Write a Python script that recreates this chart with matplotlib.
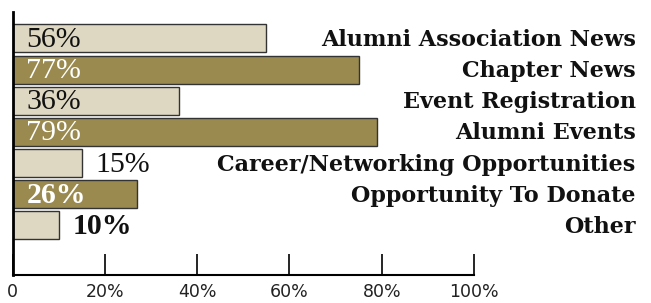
import matplotlib.pyplot as plt

categories = ['Alumni Association News', 'Chapter News', 'Event Registration',
              'Alumni Events', 'Career/Networking Opportunities',
              'Opportunity To Donate', 'Other']
values = [55, 75, 36, 79, 15, 27, 10]
pct_labels = ['56%', '77%', '36%', '79%', '15%', '26%', '10%']
label_bold = [False, False, False, False, False, True, True]
label_inside = [True, True, True, True, False, True, False]
ticks = [0, 20, 40, 60, 80, 100]
tick_labels = ['0', '20%', '40%', '60%', '80%', '100%']

light = '#ded7c1'
dark = '#9a8a4f'
colors = [light, dark, light, dark, light, dark, light]

fig = plt.figure(figsize=(6.51, 3.03), dpi=100)
ax = fig.add_axes([12.5 / 651, 28 / 303, 461.5 / 651, 263 / 303])

y = list(range(len(categories)))
ax.barh(y, values, height=0.9, color=colors, edgecolor='#333333', linewidth=1)

for i in y:
    if label_inside[i]:
        tx = 3
        tc = 'white' if colors[i] == dark else '#111111'
    else:
        tx = values[i] + 3
        tc = '#111111'
    ax.text(tx, i + 0.05, pct_labels[i], ha='left', va='center', fontsize=21.5,
            family='Liberation Serif', color=tc,
            fontweight='bold' if label_bold[i] else 'normal')
    ax.text(135, i + 0.05, categories[i], ha='right', va='center', fontsize=16,
            family='DejaVu Serif', fontweight='bold', color='#111111',
            clip_on=False)

ax.set_xlim(0, 100)
ax.set_ylim(7.6, -0.85)
ax.set_xticks(ticks)
ax.set_xticklabels(tick_labels, fontsize=12.5, color='#222222')
ax.set_yticks([])
ax.tick_params(axis='x', direction='in', length=15, width=1.2, pad=6)
for s in ['top', 'right']:
    ax.spines[s].set_visible(False)
ax.spines['left'].set_linewidth(2)
ax.spines['bottom'].set_linewidth(1.5)

fig.savefig('out.png', dpi=100)
